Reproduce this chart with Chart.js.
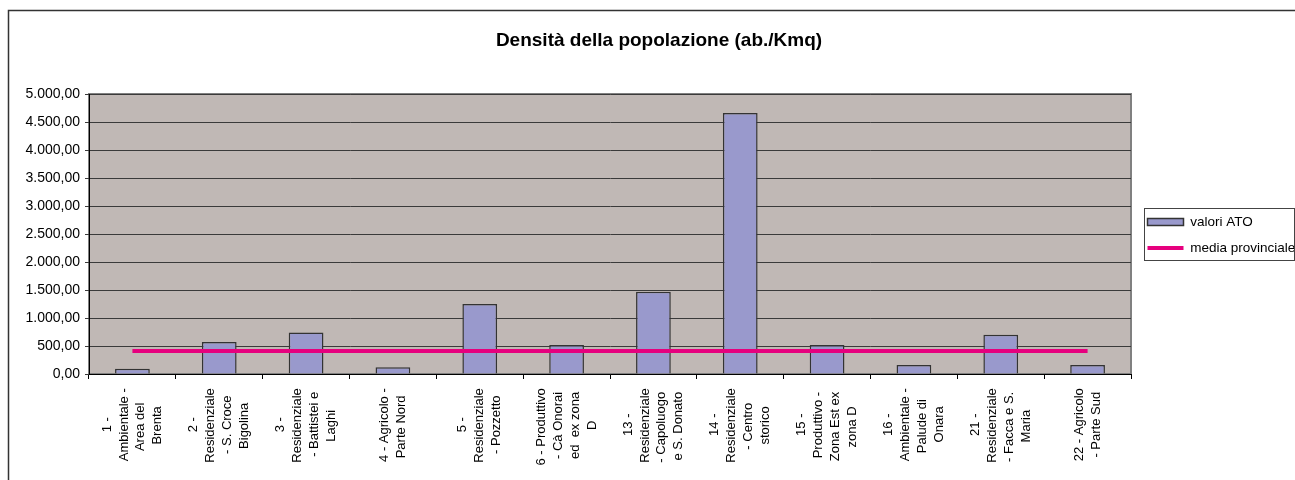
<!DOCTYPE html>
<html>
<head>
<meta charset="utf-8">
<script src="https://cdn.jsdelivr.net/npm/chart.js@4.4.1/dist/chart.umd.min.js"></script>
<style>
  body { margin: 0; background: #fff; }
  canvas { display: block; }
</style>
</head>
<body>
<canvas id="chart" width="1295" height="480"></canvas>
<script>
const categories = [
  ['1 -', 'Ambientale -', 'Area del', 'Brenta'],
  ['2 -', 'Residenziale', '- S. Croce', 'Bigolina'],
  ['3 -', 'Residenziale', '- Battistei e', 'Laghi'],
  ['4 - Agricolo -', 'Parte Nord'],
  ['5 -', 'Residenziale', '- Pozzetto'],
  ['6 - Produttivo', '- Cà Onorai', 'ed  ex zona', 'D'],
  ['13 -', 'Residenziale', '- Capoluogo', 'e S. Donato'],
  ['14 -', 'Residenziale', '- Centro', 'storico'],
  ['15 -', 'Produttivo -', 'Zona Est ex', 'zona D'],
  ['16 -', 'Ambientale -', 'Palude di', 'Onara'],
  ['21 -', 'Residenziale', '- Facca e S.', 'Maria'],
  ['22 - Agricolo', '- Parte Sud']
];
const atoValues = [95, 570, 740, 120, 1250, 520, 1470, 4660, 520, 160, 700, 160];
const provincialMean = [410, 410, 410, 410, 410, 410, 410, 410, 410, 410, 410, 410];
const seriesNames = ['valori ATO', 'media provinciale'];
const chartTitle = 'Densità della popolazione (ab./Kmq)';

const FONT = '"Liberation Sans", Arial, sans-serif';
Chart.defaults.font.family = FONT;
Chart.defaults.color = '#000';

// x labels: Excel centres every line of the rotated label, Chart.js right-aligns them,
// so pad each line with trailing spaces to push its middle down to the same spot
const X_FONT = 13;
const X_LINE = X_FONT * 1.3;
const measure = document.createElement('canvas').getContext('2d');
measure.font = X_FONT + 'px ' + FONT;
const SPACE = measure.measureText(' ').width;
const LABEL_TOP = 374 + 5 + 2;
const LABEL_MID = 426;

function layoutLabel(lines) {
  const out = lines.map(t => {
    const w = measure.measureText(t).width;
    const n = Math.max(0, Math.round((LABEL_MID - w / 2 - LABEL_TOP) / SPACE));
    return t + ' '.repeat(n);
  });
  if (lines.length === 2) out.unshift('');
  return out;
}

function fmtIt(v) {
  const s = Math.round(v).toString().replace(/\B(?=(\d{3})+(?!\d))/g, '.');
  return s + ',00';
}

const frame = {
  id: 'frame',
  beforeDraw(chart) {
    const { ctx, chartArea: a } = chart;
    ctx.save();
    ctx.fillStyle = '#C0B8B5';
    ctx.fillRect(a.left, a.top, a.right - a.left, a.bottom - a.top);
    ctx.strokeStyle = '#808080';
    ctx.lineWidth = 2;
    ctx.strokeRect(a.left, a.top, a.right - a.left, a.bottom - a.top);
    // outer chart border
    ctx.strokeStyle = '#333';
    ctx.lineWidth = 1.5;
    ctx.strokeRect(8.5, 10.5, 1400, 500);
    ctx.restore();
  },
  afterDraw(chart) {
    const hb = chart.legend.legendHitBoxes;
    if (!hb || !hb.length) return;
    const { ctx } = chart;
    const last = hb[hb.length - 1];
    const left = hb[0].left - 4;
    const top = hb[0].top - 7;
    const right = Math.min(1293, Math.max(...hb.map(h => h.left + h.width)) + 1);
    const bottom = last.top + last.height + 5;
    ctx.save();
    ctx.strokeStyle = '#444';
    ctx.lineWidth = 1;
    ctx.strokeRect(Math.round(left) + 0.5, Math.round(top) + 0.5, Math.round(right - left), Math.round(bottom - top));
    ctx.restore();
  }
};

new Chart(document.getElementById('chart'), {
  data: {
    labels: categories,
    datasets: [{
      type: 'bar',
      label: seriesNames[0],
      data: atoValues,
      backgroundColor: '#9999CC',
      borderColor: '#333333',
      borderWidth: 1.5,
      barPercentage: 0.4,
      categoryPercentage: 1,
      pointStyle: 'rect',
      order: 1
    }, {
      type: 'line',
      label: seriesNames[1],
      data: provincialMean,
      borderColor: '#E6007E',
      backgroundColor: '#E6007E',
      borderWidth: 4,
      pointRadius: 0,
      pointStyle: 'line',
      fill: false,
      order: 0
    }]
  },
  options: {
    responsive: false,
    animation: false,
    events: [],
    layout: { padding: { left: 23, right: 0, top: 10, bottom: 0 } },
    plugins: {
      title: {
        display: true,
        text: chartTitle,
        font: { size: 19, weight: 'bold' },
        color: '#000',
        padding: { top: 19.6, bottom: 41.6 }
      },
      legend: {
        position: 'right',
        align: 'start',
        maxWidth: 160,
        // empty title only used as a spacer to drop the items to mid-height
        title: { display: true, text: '', font: { size: 12 }, padding: { top: 89.2, bottom: 89.2 } },
        labels: {
          usePointStyle: true,
          pointStyleWidth: 36,
          boxHeight: 7,
          padding: 12.5,
          color: '#000',
          font: { size: 13.5 },
          sort: (a, b) => a.datasetIndex - b.datasetIndex
        }
      },
      tooltip: { enabled: false }
    },
    scales: {
      x: {
        offset: true,
        grid: { display: true, drawOnChartArea: false, drawTicks: true, tickLength: 5, color: '#000', offset: true },
        border: { color: '#000', width: 1 },
        ticks: {
          autoSkip: false,
          maxRotation: 90,
          minRotation: 90,
          padding: 2,
          color: '#000',
          font: { size: X_FONT, lineHeight: 1.3 },
          labelOffset: -1.5 * X_LINE,
          showLabelBackdrop: (c) => categories[c.index] && categories[c.index].length === 3,
          backdropColor: 'rgba(0,0,0,0)',
          backdropPadding: 0,
          callback: (v, i) => layoutLabel(categories[i])
        },
        afterFit: (s) => { s.height = 106; }
      },
      y: {
        min: 0,
        max: 5000,
        ticks: { stepSize: 500, padding: 5, color: '#000', font: { size: 14 }, callback: (v) => fmtIt(v) },
        grid: { color: '#3a3a3a', lineWidth: 1, tickLength: 4 },
        border: { color: '#000', width: 1 },
        afterFit: (s) => { s.width = 66; }
      },
      gap: {
        position: 'right',
        display: true,
        grid: { display: false },
        ticks: { display: false },
        border: { display: false },
        afterFit: (s) => { s.width = 4; }
      }
    }
  },
  plugins: [frame]
});
</script>
</body>
</html>
